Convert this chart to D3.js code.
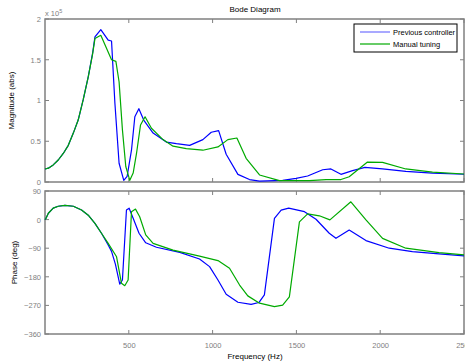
<!DOCTYPE html>
<html><head><meta charset="utf-8">
<script src="https://cdn.jsdelivr.net/npm/d3@7"></script>
<style>body{margin:0;background:#fff}svg{display:block}text{font-family:"Liberation Sans",Arial,sans-serif}</style>
</head><body>
<script>
// ---- data ----
const freqTicks = [500, 1000, 1500, 2000, 2500];
const magTicks = [0, 0.5, 1, 1.5, 2];
const phaseTicks = [90, 0, -90, -180, -270, -360];
const seriesNames = ["Previous controller", "Manual tuning"];

const magPrevF = [0,20,49,79,109,139,169,198,228,258,284,298,333,377,397,417,442,470,490,516,536,560,589,645,724,784,863,942,992,1036,1081,1151,1220,1280,1418,1498,1567,1657,1706,1766,1835,1909,2014,2153,2312,2500];
const magPrev  = [0.16,0.17,0.21,0.27,0.35,0.45,0.60,0.76,1.01,1.29,1.58,1.78,1.87,1.74,1.73,0.97,0.23,0.02,0.07,0.39,0.80,0.90,0.76,0.60,0.49,0.47,0.45,0.52,0.61,0.63,0.34,0.094,0.03,0.01,0.02,0.045,0.074,0.15,0.16,0.094,0.14,0.18,0.16,0.13,0.11,0.095];
const magManF  = [0,20,49,79,109,139,169,198,228,258,284,298,333,397,423,442,462,482,506,526,546,570,597,635,704,764,843,942,1032,1091,1145,1200,1280,1399,1577,1677,1766,1815,1924,2014,2153,2312,2500];
const magMan   = [0.16,0.17,0.21,0.27,0.35,0.45,0.60,0.76,1.01,1.29,1.57,1.76,1.80,1.50,1.48,1.23,0.64,0.19,0.02,0.11,0.35,0.70,0.80,0.66,0.52,0.44,0.41,0.39,0.43,0.52,0.54,0.29,0.086,0.016,0.016,0.03,0.03,0.065,0.245,0.24,0.16,0.12,0.098];

const phPrevF = [0,6,20,49,79,119,169,218,258,298,337,377,397,420,446,462,486,502,526,561,601,665,804,922,982,1032,1081,1151,1230,1276,1309,1369,1409,1454,1548,1617,1696,1736,1815,1915,2054,2192,2351,2500];
const phPrev  = [0,4,20,36,42,45,42,30,14,-12,-43,-80,-100,-140,-203,-190,30,36,4,-43,-73,-87,-103,-124,-148,-190,-235,-260,-267,-261,-237,4,30,36,25,1,-43,-59,-33,-66,-90,-101,-108,-114];
const phManF  = [0,6,20,49,79,119,169,218,258,298,337,377,427,456,476,496,516,540,565,601,645,764,922,1032,1101,1161,1210,1280,1369,1418,1458,1518,1567,1637,1700,1825,1915,2014,2153,2351,2500];
const phMan   = [0,4,20,36,42,45,42,30,14,-12,-43,-75,-117,-200,-208,-190,25,33,9,-48,-75,-96,-115,-129,-153,-206,-240,-263,-274,-269,-243,-7,18,12,-1,56,-1,-59,-90,-104,-111];

// ---- layout ----
const W = 465, H = 363;
const L = 45, R = 464;
const top1 = 19, bot1 = 182, top2 = 191, bot2 = 334;
const colors = ["#0000ff", "#00aa00"];
const axisCol = "#808080";

const svg = d3.select("body").append("svg").attr("width", W).attr("height", H);

const x = d3.scaleLinear().domain([0, 2500]).range([L, R]);
const yM = d3.scaleLinear().domain([0, 2]).range([bot1, top1]);
const yP = d3.scaleLinear().domain([-360, 90]).range([bot2, top2]);

function panel(y, yticks, fmt, top, bot, showX) {
  const tk = 4;
  const ax = d3.axisLeft(y).tickValues(yticks).tickSize(0).tickPadding(4).tickFormat(fmt);
  const gl = svg.append("g").attr("transform", `translate(${L},0)`).call(ax);
  gl.select(".domain").remove();
  gl.selectAll("text").attr("fill", axisCol).attr("font-size", 7.5);
  const gt = svg.append("g").attr("stroke", axisCol).attr("stroke-width", 1);
  yticks.forEach(v => {
    gt.append("line").attr("x1", L).attr("x2", L + tk).attr("y1", y(v)).attr("y2", y(v));
    gt.append("line").attr("x1", R - tk).attr("x2", R).attr("y1", y(v)).attr("y2", y(v));
  });
  freqTicks.forEach(v => {
    gt.append("line").attr("x1", x(v)).attr("x2", x(v)).attr("y1", top).attr("y2", top + tk);
    gt.append("line").attr("x1", x(v)).attr("x2", x(v)).attr("y1", bot - tk).attr("y2", bot);
  });
  if (showX) {
    const xa = d3.axisBottom(x).tickValues(freqTicks).tickSize(0).tickPadding(9).tickFormat(d3.format("d"));
    const gx = svg.append("g").attr("transform", `translate(0,${bot})`).call(xa);
    gx.select(".domain").remove();
    gx.selectAll("text").attr("fill", axisCol).attr("font-size", 7.5);
  }
  svg.append("rect").attr("x", L).attr("y", top).attr("width", R - L).attr("height", bot - top)
    .attr("fill", "none").attr("stroke", axisCol).attr("stroke-width", 1.5);
}

function drawLine(fs, vs, y, col) {
  const pts = fs.map((f, i) => [f, vs[i]]);
  const line = d3.line().x(d => x(d[0])).y(d => y(d[1]));
  svg.append("path").datum(pts).attr("d", line).attr("fill", "none")
    .attr("stroke", col).attr("stroke-width", 1.2).attr("stroke-linejoin", "round");
}

panel(yM, magTicks, d3.format(""), top1, bot1, false);
panel(yP, phaseTicks, d3.format("d"), top2, bot2, true);

drawLine(magPrevF, magPrev, yM, colors[0]);
drawLine(magManF, magMan, yM, colors[1]);
drawLine(phPrevF, phPrev, yP, colors[0]);
drawLine(phManF, phMan, yP, colors[1]);

const ex = svg.append("text").attr("x", 45).attr("y", 16).attr("fill", axisCol).attr("font-size", 7.5);
ex.append("tspan").text("x 10");
ex.append("tspan").attr("dy", -3).attr("font-size", 5.5).text("5");

svg.append("text").attr("x", 255).attr("y", 12).attr("text-anchor", "middle").attr("font-size", 8).text("Bode Diagram");
svg.append("text").attr("x", 255).attr("y", 359).attr("text-anchor", "middle").attr("font-size", 8).text("Frequency  (Hz)");
svg.append("text").attr("transform", `translate(14,${(top1 + bot1) / 2}) rotate(-90)`).attr("text-anchor", "middle").attr("font-size", 8).text("Magnitude (abs)");
svg.append("text").attr("transform", `translate(17,${(top2 + bot2) / 2}) rotate(-90)`).attr("text-anchor", "middle").attr("font-size", 8).text("Phase (deg)");

const lg = svg.append("g").attr("transform", "translate(354,24)");
lg.append("rect").attr("width", 103).attr("height", 28).attr("fill", "#fff").attr("stroke", "#000").attr("stroke-width", 1);
seriesNames.forEach((n, i) => {
  const yy = 8 + i * 12;
  lg.append("line").attr("x1", 6).attr("x2", 36).attr("y1", yy).attr("y2", yy).attr("stroke", i === 0 ? "#7070ff" : colors[1]).attr("stroke-width", 1.2);
  lg.append("text").attr("x", 39).attr("y", yy + 2.7).attr("font-size", 7.5).attr("fill", "#000").text(n);
});
</script>
</body></html>
